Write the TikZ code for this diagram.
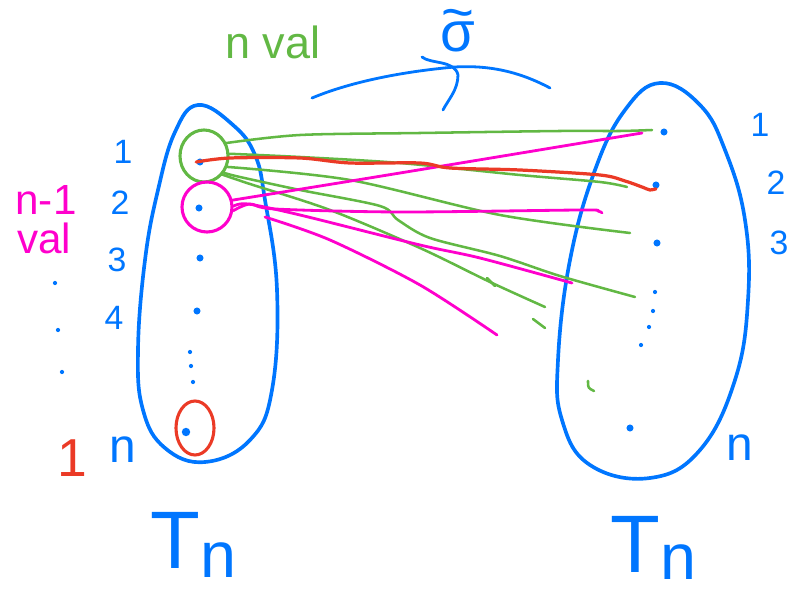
\documentclass[tikz,border=0pt]{standalone}
\usepackage{fontspec}
\setmainfont{Liberation Sans}
\usetikzlibrary{shapes.geometric}

\definecolor{penblue}{RGB}{0,118,255}
\definecolor{pengreen}{RGB}{98,184,68}
\definecolor{penred}{RGB}{235,58,38}
\definecolor{penpink}{RGB}{255,0,204}

\begin{document}
\begin{tikzpicture}[
  x=0.025cm, y=-0.025cm,
  line cap=round, line join=round,
  set/.style={draw=penblue, line width=2.6pt},
  dot/.style={circle, fill=penblue, inner sep=0pt, minimum size=5pt},
  tiny/.style={circle, fill=penblue, inner sep=0pt, minimum size=3pt},
  ring/.style={draw=#1, ellipse, line width=2.2pt, inner sep=0pt},
  gline/.style={draw=pengreen, line width=1.8pt},
  pline/.style={draw=penpink, line width=2pt},
  rline/.style={draw=penred, line width=2.3pt},
  num/.style={text=penblue, font=\fontsize{24}{26}\selectfont},
  big/.style={text=penblue, font=\fontsize{34}{36}\selectfont},
  tlab/.style={text=penblue, font=\fontsize{58}{58}\selectfont, anchor=base west, inner sep=0pt}
]
\useasboundingbox (0,0) rectangle (789,596);

% the two sets
\draw[set] plot[smooth cycle, tension=0.7] coordinates {(198,105) (233,125) (255,155) (265,200) (277,290) (272,390) (250,440) (205,462) (165,448) (143,410) (138,350) (145,260) (158,190) (175,132)};
\draw[set] plot[smooth cycle, tension=0.7] coordinates {(660,83) (700,105) (725,150) (745,220) (748,300) (735,380) (700,450) (650,478) (590,465) (562,420) (558,360) (570,260) (595,170) (625,110)};

% elements
\node[dot] (l1) at (200,162) {};
\node[dot] (l2) at (199,208) {};
\node[dot] (l3) at (200,258) {};
\node[dot] (l4) at (197,311) {};
\node[dot, minimum size=6pt] (ln) at (186,432) {};
\node[dot] (r1) at (664,132) {};
\node[dot] (r2) at (656,185) {};
\node[dot] (r3) at (657,243) {};
\node[dot] (rn) at (630,428) {};
\foreach \x/\y in {190/352, 191/366, 193/382, 655/292, 653/311, 649/327, 641/345, 55/283, 58/330, 62/372}
  \node[tiny] at (\x,\y) {};

\node[ring=pengreen, minimum width=1.2cm, minimum height=1.3cm] (gring) at (204,156) {};
\node[ring=penpink, minimum width=1.25cm, minimum height=1.25cm] (pring) at (207,207) {};
\node[ring=penred, minimum width=0.95cm, minimum height=1.35cm] (rring) at (195,428) {};

% free ends
\coordinate (g1end) at (652,130);
\coordinate (g2end) at (627,187);
\coordinate (g3end) at (630,233);
\coordinate (g4end) at (635,297);
\coordinate (g5end) at (545,307);
\coordinate (p1end) at (642,133);
\coordinate (p2end) at (602,213);
\coordinate (p3end) at (572,283);
\coordinate (p4start) at (265,217);
\coordinate (p4end) at (497,335);

% n values
\draw[gline] plot[smooth] coordinates {(gring.30) (300,135) (420,133) (560,131) (620,131) (g1end)};
\draw[gline] plot[smooth] coordinates {(gring.5) (300,157) (400,163) (520,175) (600,182) (g2end)};
\draw[gline] plot[smooth] coordinates {(gring.-25) (350,180) (500,215) (g3end)};
\draw[gline] plot[smooth] coordinates {(gring.-40) (240,177) (300,190) (380,206) (398,220) (430,238) (500,256) (560,276) (g4end)};
\draw[gline] plot[smooth] coordinates {(gring.-45) (250,184) (330,210) (420,248) (490,282) (g5end)};
\draw[gline] (487,278) -- (495,286);
\draw[gline] (533,319) -- (545,328);
\draw[gline] (588,381) .. controls (588,388) .. (594,391);

% n-1 values
\draw[pline] plot[smooth] coordinates {(pring.15) (400,173) (p1end)};
\draw[pline] plot[smooth] coordinates {(pring.-8) (250,204) (275,209) (400,212) (580,210) (598,211) (p2end)};
\draw[pline] plot[smooth] coordinates {(pring.2) (248,204) (300,215) (420,245) (480,258) (p3end)};
\draw[pline] plot[smooth] coordinates {(p4start) (330,240) (420,285) (p4end)};

% 1 value
\draw[rline] plot[smooth] coordinates {(l1.west) (230,158) (300,158) (350,163) (420,163) (450,168) (520,170) (600,175) (625,181) (642,187) (650,190) (r2.south)};

% labels
\node[num] (a1) at (123,152) {1};
\node[num] (a2) at (120,203) {2};
\node[num] (a3) at (117,260) {3};
\node[num] (a4) at (114,318) {4};
\node[big] (an) at (123,450) {n};
\node[num] (b1) at (760,125) {1};
\node[num] (b2) at (776,183) {2};
\node[num] (b3) at (779,243) {3};
\node[big] (bn) at (740,448) {n};

\node[text=penred, font=\fontsize{38}{38}\selectfont] (one) at (72,458) {1};
\node[text=penpink, font=\fontsize{30}{30}\selectfont] (nm1) at (46,200) {n-1};
\node[text=penpink, font=\fontsize{30}{30}\selectfont] (val) at (44,238) {val};
\node[text=pengreen, font=\fontsize{32}{34}\selectfont] (nval) at (273,42) {n val};

\node[tlab] (tleft) at (150,568) {T\raisebox{-7pt}{\fontsize{46}{46}\selectfont n}};
\node[tlab] (tright) at (610,572) {T\raisebox{-5pt}{\fontsize{46}{46}\selectfont n}};

% the map
\node[text=penblue, font=\fontsize{40}{40}\selectfont] (sig) at (458,37) {\ooalign{σ\cr\hidewidth\raisebox{0.36em}{\textasciitilde}\hidewidth\cr}};
\draw[set, line width=2pt] (312,98) .. controls (360,78) and (420,70) .. (455,67) .. controls (490,65) and (520,72) .. (550,88);
\draw[set, line width=2pt] (422,57) .. controls (430,64) and (455,60) .. (458,75) .. controls (458,90) and (448,100) .. (443,110);
\end{tikzpicture}
\end{document}
